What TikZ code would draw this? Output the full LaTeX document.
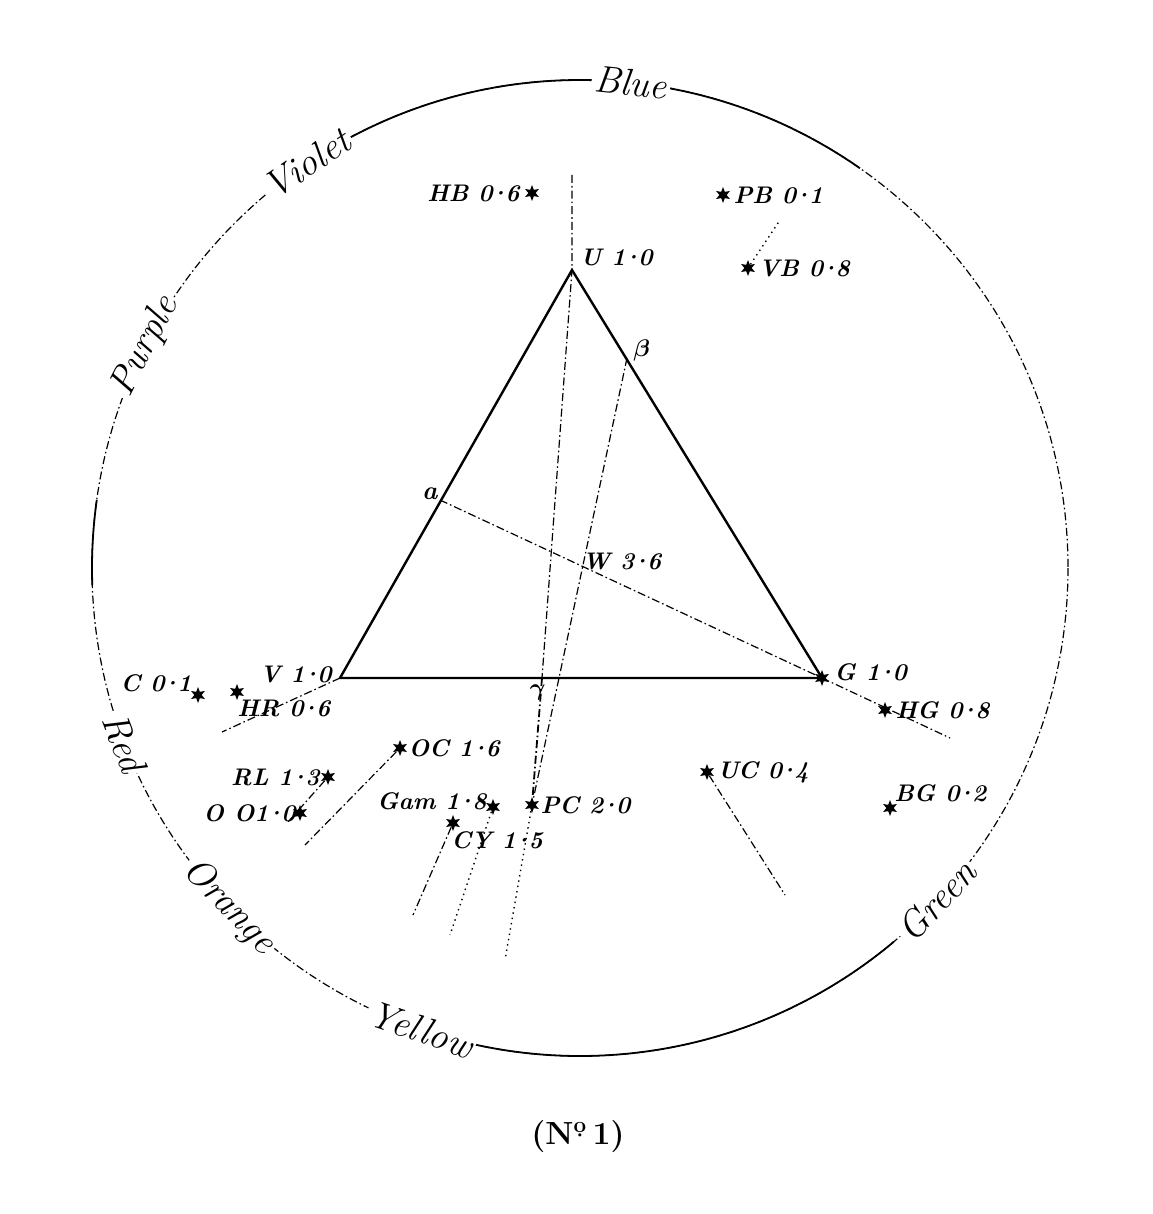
\documentclass[tikz,border=0pt]{standalone}
\usepackage{fontspec}
\usepackage{tikz}
\usetikzlibrary{positioning, shapes.geometric}

\newcommand{\mdt}{\kern-0.18em·\kern-0.18em}

\begin{document}
\begin{tikzpicture}[
    x=0.5pt, y=-0.5pt,
    lbl/.style={inner sep=1pt, font=\fontsize{12}{13}\selectfont\bfseries\itshape},
    greek/.style={inner sep=1pt, font=\fontsize{13}{14}\selectfont\bfseries\itshape\boldmath},
    starpt/.style={star, star points=6, star point ratio=2.2, fill=black,
        inner sep=0pt, minimum size=8pt},
    cons/.style={line width=0.6pt, dash pattern=on 4pt off 1.5pt on 0.8pt off 1.5pt},
    dots/.style={line width=0.7pt, dotted},
    hue/.style={fill=white, inner sep=1.5pt, font=\fontsize{19}{20}\selectfont\itshape},
    tri/.style={line width=1.2pt, line join=miter}
  ]
  \useasboundingbox (0,0) rectangle (1152,1214);
  \coordinate (ctr) at (580,568);

  % colour circle
  \draw[cons] (ctr) circle[radius=488];
  \draw[line width=0.9pt] (ctr) ++(-55:488) arc[start angle=-55, end angle=-118, radius=488];
  \draw[line width=0.9pt] (ctr) ++(-172:488) arc[start angle=-172, end angle=-182, radius=488];
  \draw[line width=0.9pt] (ctr) ++(-255:488) arc[start angle=-255, end angle=-310, radius=488];
  \path (ctr) ++(-84:488) node[hue, rotate=-6] (blue) {Blue};
  \path (ctr) ++(-124:488) node[hue, rotate=34] (violet) {Violet};
  \path (ctr) ++(-153:488) node[hue, rotate=63] (purple) {Purple};
  \path (ctr) ++(-201:488) node[hue, rotate=-69] (red) {Red};
  \path (ctr) ++(-224:488) node[hue, rotate=-46] (orange) {Orange};
  \path (ctr) ++(-251:488) node[hue, rotate=-19] (yellow) {Yellow};
  \path (ctr) ++(-317:488) node[hue, rotate=47] (green) {Green};

  % triangle and its points
  \coordinate (u) at (572,270);
  \coordinate (v) at (340,678);
  \coordinate (g) at (822,678);
  \coordinate (alpha) at (440,500);
  \coordinate (beta) at (627,358);
  \coordinate (gamma) at (542,678);
  \coordinate (w) at (580,567);
  \draw[tri] (u) -- (v) -- (g) -- cycle;
  \node[starpt] (gstar) at (g) {};

  % pigments
  \node[starpt] (hb) at (532,193) {};
  \node[starpt] (pb) at (723,195) {};
  \node[starpt] (vb) at (748,268) {};
  \node[starpt] (c) at (198,695) {};
  \node[starpt] (hr) at (237,692) {};
  \node[starpt] (rl) at (328,777) {};
  \node[starpt] (oo) at (300,813) {};
  \node[starpt] (oc) at (400,748) {};
  \node[starpt] (gam) at (493,807) {};
  \node[starpt] (cy) at (453,823) {};
  \node[starpt] (pc) at (532,805) {};
  \node[starpt] (uc) at (707,772) {};
  \node[starpt] (hg) at (885,710) {};
  \node[starpt] (bg) at (890,808) {};

  % free ends
  \coordinate (utop) at (572,175);
  \coordinate (hgend) at (950,738);
  \coordinate (hrend) at (222,732);
  \coordinate (vbend) at (780,220);
  \coordinate (ooend) at (287,823);
  \coordinate (ocend) at (305,845);
  \coordinate (cyend) at (413,915);
  \coordinate (gamend) at (450,935);
  \coordinate (pcend) at (505,960);
  \coordinate (ucend) at (785,895);

  \draw[cons] (utop) -- (u) -- (gamma);
  \draw[cons, line width=0.9pt] (gamma) -- (pc);
  \draw[cons] (beta) -- (pc);
  \draw[cons] (alpha) -- (g) -- (hgend);
  \draw[cons] (v) -- (hrend);
  \draw[dots] (vb) -- (vbend);
  \draw[cons] (rl) -- (ooend);
  \draw[cons] (oc) -- (ocend);
  \draw[cons] (cy) -- (cyend);
  \draw[dots] (gam) -- (gamend);
  \draw[dots] (pc) -- (pcend);
  \draw[cons] (uc) -- (ucend);

  % labels
  \node[lbl, above right=1pt and 3pt of u] {U 1\mdt0};
  \node[lbl, left=3pt of v, yshift=2pt] {V 1\mdt0};
  \node[lbl, right=5pt of g, yshift=3pt] {G 1\mdt0};
  \node[greek, left=0pt of alpha, yshift=3pt] {a};
  \node[greek, above right=-3pt and 2pt of beta] {$\beta$};
  \node[greek, below left=2pt and -3pt of gamma] {$\gamma$};
  \node[lbl, right=0pt of w, yshift=3pt] {W 3\mdt6};
  \node[lbl, left=3pt of hb] {HB 0\mdt6};
  \node[lbl, right=2pt of pb] {PB 0\mdt1};
  \node[lbl, right=2pt of vb] {VB 0\mdt8};
  \node[lbl, left=0pt of c, yshift=6pt] {C 0\mdt1};
  \node[lbl, below right=1pt and -3pt of hr] {HR 0\mdt6};
  \node[lbl, left=1pt of rl] {RL 1\mdt3};
  \node[lbl, left=-1pt of oo] {O O1\mdt0};
  \node[lbl, right=1pt of oc] {OC 1\mdt6};
  \node[lbl, left=0pt of gam, yshift=3pt] {Gam 1\mdt8};
  \node[lbl, below right=1pt and -4pt of cy] {CY 1\mdt5};
  \node[lbl, right=1pt of pc] {PC 2\mdt0};
  \node[lbl, right=2pt of uc] {UC 0\mdt4};
  \node[lbl, right=2pt of hg] {HG 0\mdt8};
  \node[lbl, above right=0pt and -1pt of bg] {BG 0\mdt2};

  \node[font=\fontsize{16}{18}\selectfont\bfseries] (cap) at (578,1137) {(N\textsuperscript{\d{o}}\,1)};
\end{tikzpicture}
\end{document}
